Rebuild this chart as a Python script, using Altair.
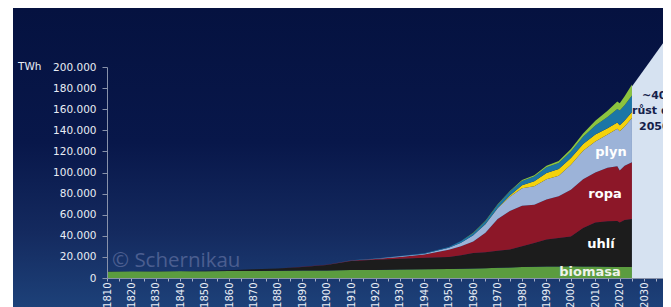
import altair as alt
import pandas as pd

years = [1810, 1820, 1830, 1840, 1850, 1860, 1870, 1880, 1890, 1900, 1910, 1920, 1930, 1940,
         1950, 1955, 1960, 1965, 1970, 1975, 1980, 1985, 1990, 1995, 2000, 2005, 2010, 2015,
         2019, 2020, 2022, 2025]

biomasa = [6000, 6100, 6200, 6300, 6400, 6600, 6700, 6800, 7000, 7200, 7500, 7700, 8000, 8300,
           8600, 8700, 8900, 9200, 9600, 10000, 10500, 10700, 11000, 11000, 11200, 11000, 10800,
           10600, 10500, 10500, 10400, 10400]
uhli = [50, 50, 100, 200, 400, 800, 1500, 2200, 3500, 5100, 8500, 9600, 10300, 11000, 11400,
        12800, 14800, 15300, 16200, 17000, 19500, 22500, 25500, 26900, 28200, 36500, 41900,
        43100, 43500, 42200, 44600, 45500]
ropa = [0, 0, 0, 0, 0, 0, 0, 30, 100, 200, 500, 800, 1700, 2900, 6800, 8500, 10800, 18500,
        30200, 36500, 38500, 36300, 38000, 39500, 44300, 46000, 47400, 50800, 52000, 49300,
        51500, 53700]
plyn = [0, 0, 0, 0, 0, 0, 0, 0, 0, 100, 200, 200, 500, 800, 1900, 3500, 6000, 8000, 10000,
        13500, 16500, 17500, 19000, 19600, 23700, 27000, 29400, 31500, 35500, 37000, 37000, 42100]
jadro = [0] * 17 + [100, 300, 1300, 2800, 4600, 6000, 6200, 6300, 6500, 6500, 6000, 5800, 5700,
                    5700, 5700]
voda = [0] * 9 + [50, 100, 200, 300, 400, 800, 1500, 2000, 2700, 3200, 3600, 4200, 4700, 5500,
                  5800, 6300, 7000, 8500, 10500, 13000, 14000, 14500, 15700]
oze = [0] * 16 + [300, 400, 500, 600, 800, 1000, 1300, 1800, 2200, 3000, 4500, 6000, 7000, 7000,
                  8500, 10200]

names = ["biomasa", "uhlí", "ropa", "plyn", "jádro", "voda", "OZE"]
colors = ["#5b9c3f", "#1c1c1c", "#8c1728", "#9cb3d8", "#f4d20c", "#1b76a6", "#8cc43f"]
series = [biomasa, uhli, ropa, plyn, jadro, voda, oze]

# projection (~40 % growth to 2050)
proj_years = [2025, 2050]
proj_values = [181600, 262000]

x_ticks = list(range(1810, 2041, 5))
y_ticks = list(range(0, 200001, 20000))

rows = []
for i, (n, vals) in enumerate(zip(names, series)):
    for yr, v in zip(years, vals):
        rows.append({"year": yr, "value": v, "source": n, "ord": i})
df = pd.DataFrame(rows)

W, H = 556, 211
xmax = 1810 + W / 2.4416
xscale = alt.Scale(domain=[1810, xmax], nice=False, zero=False)
yscale = alt.Scale(domain=[0, 200000], nice=False)

xaxis = alt.Axis(values=x_ticks, title=None, grid=False, labelAngle=270,
                 labelExpr="datum.value % 10 == 0 ? toString(datum.value) : ''",
                 labelFontSize=10, labelFont="DejaVu Sans", labelColor="#e8edf5",
                 tickSize=3, labelPadding=1, tickColor="#a8b0c8",
                 domainColor="#8892aa", labelOverlap=False, labelFlush=False, zindex=1)
yaxis = alt.Axis(values=y_ticks, title=None, grid=False,
                 labelExpr="replace(format(datum.value, ','), ',', '.')",
                 labelFontSize=10.5, labelFont="DejaVu Sans", labelColor="#e8edf5",
                 tickSize=5, labelPadding=6, tickColor="#8892aa",
                 domainColor="#8892aa", labelOverlap=False, labelFlush=False, zindex=1)

bg = alt.Chart(pd.DataFrame({"a": [0]})).mark_rect(
    color=alt.Gradient(
        gradient="linear",
        stops=[alt.GradientStop(color="#051240", offset=0),
               alt.GradientStop(color="#08174a", offset=0.45),
               alt.GradientStop(color="#142a5f", offset=0.75),
               alt.GradientStop(color="#1d4179", offset=1)],
        x1=0, x2=0, y1=0, y2=1)
).encode(x=alt.value(-94), x2=alt.value(W), y=alt.value(-59), y2=alt.value(H + 29))

area = alt.Chart(df).mark_area(interpolate="linear").encode(
    x=alt.X("year:Q", scale=xscale, axis=xaxis),
    y=alt.Y("value:Q", stack="zero", scale=yscale, axis=yaxis),
    color=alt.Color("source:N", scale=alt.Scale(domain=names, range=colors), legend=None),
    order=alt.Order("ord:Q", sort="ascending"),
)

proj = alt.Chart(pd.DataFrame({"year": proj_years, "value": proj_values})).mark_area(
    color="#d6e2f1", clip=False, interpolate="linear"
).encode(x=alt.X("year:Q", scale=xscale, axis=xaxis),
         y=alt.Y("value:Q", scale=yscale, axis=yaxis), y2=alt.datum(0))


def label(text, x, y, size, color, align="center", weight="bold", font="DejaVu Sans"):
    return alt.Chart(pd.DataFrame({"t": [text]})).mark_text(
        align=align, baseline="middle", fontSize=size, fontWeight=weight, font=font,
        color=color
    ).encode(text="t:N", x=alt.value(x), y=alt.value(y))


texts = [
    label("TWh", -89, 0, 10.5, "#e8edf5", align="left", weight="normal"),
    label("© Schernikau", 5, 194, 20.5, "#4b5e90", align="left", weight="normal", font="Open Sans"),
    label("biomasa", 483, 204.5, 13, "#eef3ea"),
    label("uhlí", 494, 176.5, 13, "#ffffff"),
    label("ropa", 498, 126.5, 13, "#ffffff"),
    label("plyn", 504, 84.5, 13, "#ffffff"),
    label("~40%", 535, 29, 11, "#14204a", align="left"),
    label("růst do", 525, 44, 11, "#14204a", align="left"),
    label("2050", 532, 59.5, 11, "#14204a", align="left"),
]

chart = alt.layer(bg, area, proj, *texts).properties(
    width=W, height=H,
    autosize=alt.AutoSizeParams(type="none"),
    padding={"left": 99, "top": 59, "right": 0, "bottom": 29},
).configure_view(stroke=None).configure(background="#ffffff").configure_axis(labelOverlap=False)

chart.save("out.html", embed_options={"renderer": "svg", "actions": False})
